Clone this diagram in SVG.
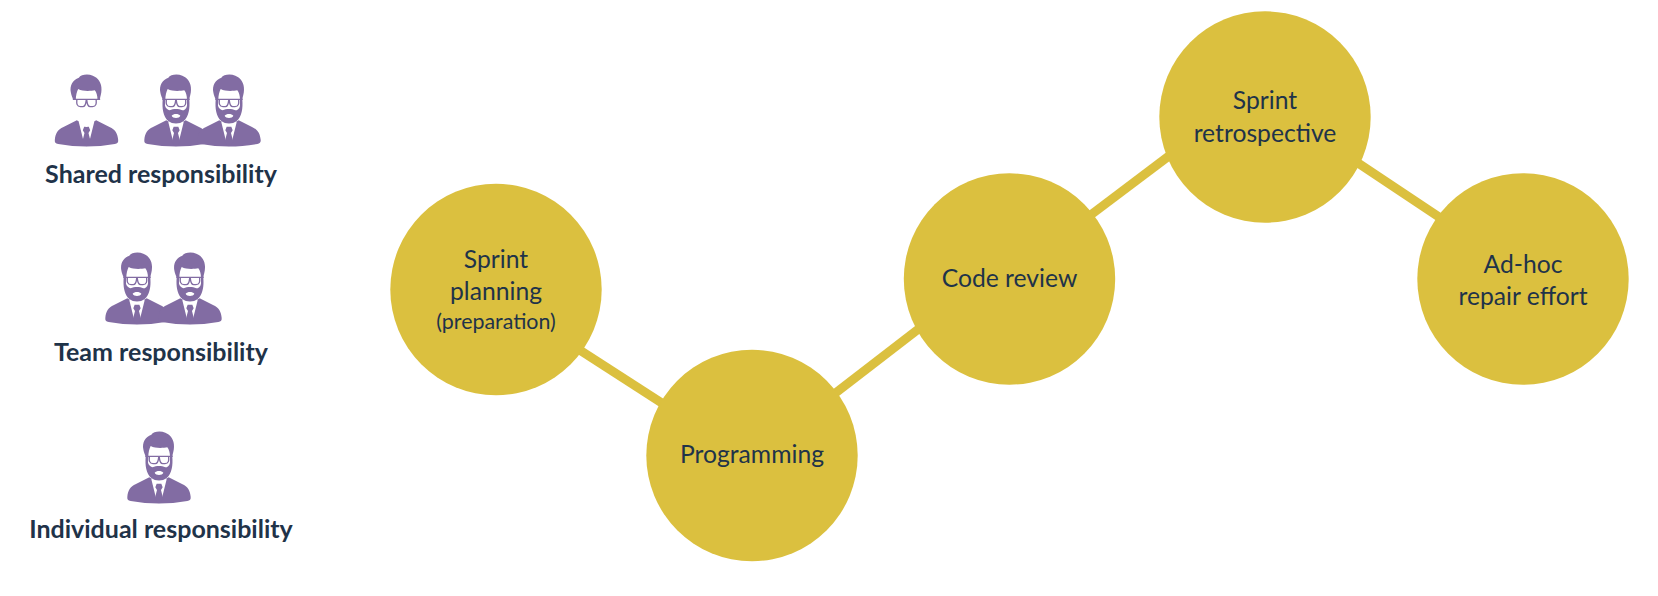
<svg xmlns="http://www.w3.org/2000/svg" width="1658" height="596" viewBox="0 0 1658 596">
<style>
.t{font-family:"Lato","Carlito","Liberation Sans",sans-serif;fill:#1f3349;text-anchor:middle;font-size:24.7px}
.s{font-size:21.4px}
.b{font-weight:700;font-size:25px}
.n{fill:#dbc03f}
.c{stroke:#dbc03f;stroke-width:9;fill:none}
.p{fill:#826ca3}
.w{fill:#fff}
</style>
<defs>
<g id="body">
<path class="p" d="M52 230C54 212 60 200 78 192L118 172L147 190L176 172L216 192C234 200 240 212 242 230C243 238 240 241 232 243C175 253 119 253 62 243C54 241 51 238 52 230Z"/>
<path class="w" d="M124 178L138 234L147 195L156 234L170 178L160 172H134Z"/>
<path class="p" d="M140 191H154L158 202L153 210L160 238L147 250L134 238L141 210L136 202Z"/>
</g>
<g id="glasses">
<path d="M106 109H188M118 109C117 122 118 131 129 131H136C143 131 145 122 146 113H148C149 122 151 131 158 131H165C176 131 177 122 176 109" fill="#fff" stroke="#826ca3" stroke-width="4"/>
</g>
<g id="hair">
<path d="M100 88C96 68 106 50 124 44C130 34 152 32 166 38C182 44 193 60 192 80C192 92 188 100 187 110H180C180 98 177 88 172 82C160 84 136 86 122 78C118 86 115 98 115 110H107C105 104 101 96 100 88Z"/>
</g>
<g id="beard">
<use href="#body"/>
<path class="p" d="M100 88C96 68 106 50 124 44C130 34 152 32 166 38C182 44 193 60 192 80C192 92 188 100 187 110C189 135 186 160 170 174C158 184 136 184 124 174C108 160 105 135 107 110C105 104 101 96 100 88Z"/>
<path class="w" d="M115 110C115 98 118 86 122 78C136 86 160 84 172 82C177 88 180 98 180 110V128C178 138 172 142 166 142C155 137 139 137 128 142C122 140 116 136 114 128Z"/>
<path class="w" d="M134 158C139 151 155 151 160 158C157 167 137 167 134 158Z"/>
<use href="#glasses"/>
</g>
<g id="clean">
<use href="#body"/>
<path class="w" d="M124 130H170V178L147 192L124 178Z"/>
<use href="#hair" class="p"/>
<use href="#glasses"/>
</g>
</defs>
<g id="connectors">
<line class="c" x1="575" y1="347" x2="668" y2="407"/>
<line class="c" x1="829" y1="398" x2="925" y2="324"/>
<line class="c" x1="1084" y1="220" x2="1176" y2="150.7"/>
<line class="c" x1="1352" y1="159" x2="1445" y2="221"/>
</g>
<g id="node-sprint-planning"><circle class="n" cx="496" cy="289.5" r="105.7"/>
<text class="t" x="496" y="268">Sprint</text><text class="t" x="496" y="300">planning</text><text class="t s" x="496" y="329">(preparation)</text></g>
<g id="node-programming"><circle class="n" cx="752" cy="455.5" r="105.7"/>
<text class="t" x="752" y="463">Programming</text></g>
<g id="node-code-review"><circle class="n" cx="1009.5" cy="279" r="105.7"/>
<text class="t" x="1009.5" y="287">Code review</text></g>
<g id="node-sprint-retrospective"><circle class="n" cx="1265" cy="117" r="105.7"/>
<text class="t" x="1265" y="109">Sprint</text><text class="t" x="1265" y="142">retrospective</text></g>
<g id="node-adhoc"><circle class="n" cx="1523" cy="279" r="105.7"/>
<text class="t" x="1523" y="273">Ad-hoc</text><text class="t" x="1523" y="305">repair effort</text></g>
<g id="legend-shared">
<use href="#clean" transform="translate(37.5 63) scale(.3333)"/>
<use href="#beard" transform="translate(127 63) scale(.3333)"/>
<use href="#beard" transform="translate(180 63) scale(.3333)"/>
<text class="t b" x="161" y="183">Shared responsibility</text>
</g>
<g id="legend-team">
<use href="#beard" transform="translate(88 241) scale(.3333)"/>
<use href="#beard" transform="translate(141 241) scale(.3333)"/>
<text class="t b" x="161" y="361">Team responsibility</text>
</g>
<g id="legend-individual">
<use href="#beard" transform="translate(110 420) scale(.3333)"/>
<text class="t b" x="161" y="538">Individual responsibility</text>
</g>
</svg>
